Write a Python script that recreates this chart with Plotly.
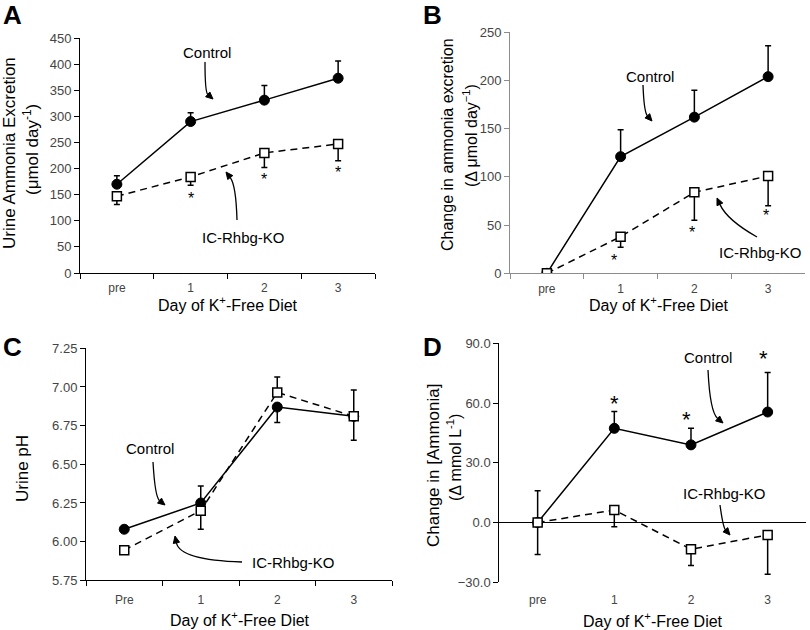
import plotly.graph_objects as go

W, H = 810, 630
FONT = "Liberation Sans, Arial, sans-serif"

# ---------------- data ----------------
days = ["pre", "1", "2", "3"]
days_c = ["Pre", "1", "2", "3"]
star_days = ["1", "2", "3"]

# Panel A: urine ammonia excretion (umol/day)
a_ctrl = [170, 290, 331, 373]
a_ctrl_err = [16, 17, 28, 33]
a_ko = [147, 184, 230, 247]
a_ko_err = [16, 16, 28, 32]
a_star = [150, 186, 201]

# Panel B: change in ammonia excretion
b_ctrl = [0, 121, 162, 204]
b_ctrl_err = [0, 28, 28, 32]
b_ko = [0, 38, 84, 101]
b_ko_err = [0, 11, 29, 31]
b_star = [17, 46, 64]

# Panel C: urine pH
c_ctrl = [6.08, 6.25, 6.87, 6.81]
c_ctrl_up = [0.02, 0.11, 0.0, 0.0]
c_ctrl_dn = [0.02, 0.0, 0.10, 0.155]
c_ko = [5.945, 6.20, 6.965, 6.81]
c_ko_up = [0.015, 0.0, 0.10, 0.17]
c_ko_dn = [0.015, 0.12, 0.0, 0.0]

# Panel D: change in [ammonia] (mmol/L)
d_ctrl = [0, 47.3, 39.0, 55.5]
d_ctrl_err = [16, 8.4, 8.3, 19.9]
d_ko = [0, 6.3, -13.4, -6.2]
d_ko_err = [16, 8.4, 8.2, 19.8]
d_star = [61.5, 53.5, 84]

# ---------------- helpers ----------------
def px(x, y):
    return x / W, 1 - y / H

def dom_x(x0, x1):
    return [x0 / W, x1 / W]

def dom_y(ytop, ybot):
    return [1 - ybot / H, 1 - ytop / H]

fig = go.Figure()

ctrl_marker = dict(symbol="circle", size=10, color="black", line=dict(color="black", width=1))
ko_marker = dict(symbol="square", size=9, color="white", line=dict(color="black", width=1.5))
ERR = dict(color="black", thickness=1.5, width=3)

def add_pair(xv, ctrl, cup, cdn, ko, kup, kdn, xa, ya):
    fig.add_trace(go.Scatter(
        x=xv, y=ctrl, mode="lines+markers", xaxis=xa, yaxis=ya,
        line=dict(color="black", width=1.5), marker=ctrl_marker,
        error_y=dict(type="data", symmetric=False, array=cup, arrayminus=cdn, **ERR),
        showlegend=False, hoverinfo="skip"))
    fig.add_trace(go.Scatter(
        x=xv, y=ko, mode="lines+markers", xaxis=xa, yaxis=ya,
        line=dict(color="black", width=1.5, dash="7px,5px"), marker=ko_marker,
        error_y=dict(type="data", symmetric=False, array=kup, arrayminus=kdn, **ERR),
        showlegend=False, hoverinfo="skip"))

zeros = [0, 0, 0, 0]
add_pair(days, a_ctrl, a_ctrl_err, zeros, a_ko, zeros, a_ko_err, "x", "y")
add_pair(days, b_ctrl, b_ctrl_err, zeros, b_ko, zeros, b_ko_err, "x2", "y2")
add_pair(days_c, c_ctrl, c_ctrl_up, c_ctrl_dn, c_ko, c_ko_up, c_ko_dn, "x3", "y3")
add_pair(days, d_ctrl, d_ctrl_err, zeros, d_ko, zeros, d_ko_err, "x4", "y4")

xtickfont = dict(family=FONT, size=12, color="#444")
ytickfont = dict(family=FONT, size=13, color="#444")

def xaxis(domain, anchor, color="black", cats=days, showline=True, ticks="outside", standoff=4):
    return dict(domain=domain, anchor=anchor, type="category", categoryorder="array",
                categoryarray=cats, range=[-0.5, 3.5], showline=showline, linecolor=color,
                linewidth=1, ticks=ticks, tickson="boundaries", ticklen=5, tickcolor=color,
                tickfont=xtickfont, showgrid=False, zeroline=False, fixedrange=True,
                automargin=False, ticklabelstandoff=standoff)

def yaxis(domain, anchor, rng, dtick, fmt=None, color="black"):
    d = dict(domain=domain, anchor=anchor, range=rng, dtick=dtick, tick0=rng[0],
             showline=True, linecolor=color, linewidth=1, ticks="outside", ticklen=5,
             tickcolor=color, tickfont=ytickfont, showgrid=False, zeroline=False,
             fixedrange=True, automargin=False)
    if fmt:
        d["tickformat"] = fmt
    return d

dA = (dom_x(80, 375), dom_y(38, 273))
dB = (dom_x(510, 805), dom_y(32.3, 273.3))
dC = (dom_x(86, 392), dom_y(348.3, 580.3))
dD = (dom_x(499.3, 806), dom_y(343.3, 582.3))

yd4 = yaxis(dD[1], "x4", [-30, 90], 30, ".1f")
yd4.update(zeroline=True, zerolinecolor="black", zerolinewidth=1.3)

fig.update_layout(
    width=W, height=H, margin=dict(l=0, r=0, t=0, b=0, autoexpand=False),
    paper_bgcolor="white", plot_bgcolor="white", showlegend=False,
    font=dict(family=FONT, color="black"),
    xaxis=xaxis(dA[0], "y", standoff=4),
    yaxis=yaxis(dA[1], "x", [0, 450], 50),
    xaxis2=xaxis(dB[0], "y2", color="#8c8c8c", standoff=4),
    yaxis2=yaxis(dB[1], "x2", [0, 250], 50, color="#8c8c8c"),
    xaxis3=xaxis(dC[0], "y3", cats=days_c, standoff=8),
    yaxis3=yaxis(dC[1], "x3", [5.75, 7.25], 0.25, ".2f"),
    xaxis4=xaxis(dD[0], "y4", showline=False, ticks="", standoff=9),
    yaxis4=yd4,
)

ann = []
shapes = []

def text(x, y, s, size=15, angle=0, bold=False, xanchor="center"):
    X, Y = px(x, y)
    ann.append(dict(x=X, y=Y, xref="paper", yref="paper", text=(f"<b>{s}</b>" if bold else s),
                    showarrow=False, textangle=angle, xanchor=xanchor, yanchor="middle",
                    font=dict(family=FONT, size=size, color="black")))

# panel letters
text(12, 15, "A", 26, bold=True)
text(432, 15, "B", 26, bold=True)
text(12, 347, "C", 26, bold=True)
text(432, 347, "D", 26, bold=True)

# axis titles
text(9, 153, "Urine Ammonia Excretion", 17, -90)
text(31, 150, "(μmol day<sup>-1</sup>)", 17, -90)
text(448, 144, "Change in ammonia excretion", 16, -90)
text(470, 136, "(Δ μmol day<sup>−1</sup>)", 16, -90)
text(22, 469, "Urine pH", 17, -90)
text(433, 466, "Change in [Ammonia]", 17, -90)
text(454, 457, "(Δ mmol L<sup>-1</sup>)", 16, -90)
for cx, cy in [(228, 304), (659, 304), (240, 619), (653, 620)]:
    text(cx, cy, "Day of K<sup>+</sup>-Free Diet", 16)

# series labels
text(207, 52, "Control", 15)
text(243, 237, "IC-Rhbg-KO", 15)
text(650, 76, "Control", 15)
text(804, 252, "IC-Rhbg-KO", 15, xanchor="right")
text(150, 448, "Control", 15)
text(293, 562, "IC-Rhbg-KO", 15)
text(708, 357, "Control", 15)
text(724, 493, "IC-Rhbg-KO", 15)

# curved arrows (curve + filled triangular head), given in figure pixels
def arrow(start, ctrl, tip, hl=7.0, hw=3.2):
    dx, dy = tip[0] - ctrl[0], tip[1] - ctrl[1]
    n = (dx * dx + dy * dy) ** 0.5
    ux, uy = dx / n, dy / n
    base = (tip[0] - ux * hl, tip[1] - uy * hl)
    x0, y0 = px(*start)
    cx, cy = px(*ctrl)
    bx, by = px(*base)
    shapes.append(dict(type="path", xref="paper", yref="paper",
                       path=f"M {x0},{y0} Q {cx},{cy} {bx},{by}",
                       line=dict(color="black", width=1.3)))
    p1 = px(base[0] - uy * hw, base[1] + ux * hw)
    p2 = px(base[0] + uy * hw, base[1] - ux * hw)
    t = px(*tip)
    shapes.append(dict(type="path", xref="paper", yref="paper",
                       path=f"M {t[0]},{t[1]} L {p1[0]},{p1[1]} L {p2[0]},{p2[1]} Z",
                       fillcolor="black", line=dict(color="black", width=1)))

arrow((205, 62), (205, 92), (213, 99))
arrow((237, 220), (236, 185), (226, 172))
arrow((643, 85), (644, 112), (652, 121))
arrow((757, 237), (727, 220), (717, 198))
arrow((153, 462), (155, 497), (165, 505))
arrow((242, 562), (180, 560), (175, 536))
arrow((708, 370), (710, 412), (723, 423))
arrow((720, 505), (723, 527), (730, 535))

# significance asterisks
def stars(xa, ya, ys, size, yshift, xshifts=(0, 0, 0)):
    for d, yv, xs in zip(star_days, ys, xshifts):
        ann.append(dict(x=d, y=yv, xref=xa, yref=ya, text="*", showarrow=False,
                        yshift=yshift, xshift=xs,
                        font=dict(family=FONT, size=size, color="black")))

stars("x", "y", a_star, 16, -4)
stars("x2", "y2", b_star, 16, -4, (-7, -2, -2))
stars("x4", "y4", d_star, 22, -3, (0, -4, -4))

fig.update_layout(annotations=ann, shapes=shapes)
fig.write_html(
    "out.html",
    config={"displayModeBar": False},
    post_script="document.body.style.margin='0';document.body.style.padding='0';"
                "document.body.style.overflow='hidden';",
)
